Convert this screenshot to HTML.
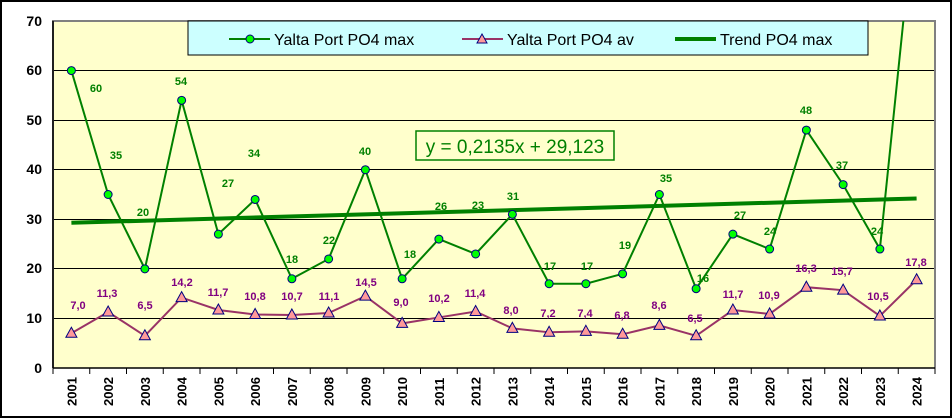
<!DOCTYPE html>
<html><head><meta charset="utf-8"><style>body{margin:0;background:#fff}svg{display:block}text{font-family:"Liberation Sans",Arial,sans-serif}</style></head><body>
<svg width="952" height="418" xmlns="http://www.w3.org/2000/svg">
<rect x="1" y="1" width="950" height="416" fill="#fff" stroke="#000" stroke-width="2"/>
<defs><clipPath id="c"><rect x="53" y="21" width="882" height="347"/></clipPath></defs>
<rect x="53" y="21" width="882" height="347" fill="#ffffcc"/>
<g stroke="#000" stroke-width="1">
<line x1="53" y1="70.5" x2="935" y2="70.5"/><line x1="53" y1="120.5" x2="935" y2="120.5"/><line x1="53" y1="169.5" x2="935" y2="169.5"/><line x1="53" y1="219.5" x2="935" y2="219.5"/><line x1="53" y1="268.5" x2="935" y2="268.5"/><line x1="53" y1="318.5" x2="935" y2="318.5"/>
</g>
<path d="M53 368V21H935V368" fill="none" stroke="#808080" stroke-width="2"/>
<g stroke="#000" stroke-width="1.5"><line x1="53" y1="21" x2="53" y2="368"/><line x1="53" y1="368" x2="935" y2="368"/></g>
<g stroke="#000" stroke-width="1" id="ticks"></g>
<g font-size="14" font-weight="bold" text-anchor="end" fill="#000">
<text x="42" y="26">70</text><text x="42" y="75">60</text><text x="42" y="125">50</text><text x="42" y="174">40</text><text x="42" y="224">30</text><text x="42" y="273">20</text><text x="42" y="323">10</text><text x="42" y="373">0</text>
</g>
<g id="xl" font-size="13" font-weight="bold"></g>
<g clip-path="url(#c)">
<line x1="71.4" y1="222.8" x2="916.6" y2="198.5" stroke="#008000" stroke-width="4"/>
<polyline id="mx" fill="none" stroke="#008000" stroke-width="2"/>
<polyline id="av" fill="none" stroke="#993366" stroke-width="2"/>
<g id="mk"></g>
</g>
<g id="lb" font-size="11" font-weight="bold"></g>
<rect x="416" y="131" width="198" height="29" fill="#ffffcc" stroke="#008000" stroke-width="1.5"/>
<text x="515" y="153" font-size="19" fill="#008000" text-anchor="middle">y = 0,2135x + 29,123</text>
<rect x="188" y="21" width="680" height="34" fill="#ccffff" stroke="#000" stroke-width="1"/>
<line x1="229" y1="39" x2="270" y2="39" stroke="#008000" stroke-width="2"/><circle cx="250" cy="39" r="4" fill="#00ff00" stroke="#000080"/>
<text x="274" y="45" font-size="16">Yalta Port PO4 max</text>
<line x1="462" y1="39" x2="503" y2="39" stroke="#993366" stroke-width="2"/><path d="M482 34L487 43H477Z" fill="#ff9999" stroke="#000080"/>
<text x="507" y="45" font-size="16">Yalta Port PO4 av</text>
<line x1="675" y1="39" x2="716" y2="39" stroke="#008000" stroke-width="4"/>
<text x="720" y="45" font-size="16">Trend PO4 max</text>
</svg>
<script>
var mx=[60,35,20,54,27,34,18,22,40,18,26,23,31,17,17,19,35,16,27,24,48,37,24,96];
var av=[7.0,11.3,6.5,14.2,11.7,10.8,10.7,11.1,14.5,9.0,10.2,11.4,8.0,7.2,7.4,6.8,8.6,6.5,11.7,10.9,16.3,15.7,10.5,17.8];
var ml=[[96,88],[116,155],[143,212],[181,81],[228,183],[254,153],[292,259],[329,240],[365,151],[410,254],[441,206],[478,205],[513,196],[550,266],[587,266],[625,245],[666,178],[703,278],[740,215],[770,231],[806,110],[842,165],[877,231]];
var al=[[78,305],[107,293],[145,305],[182,282],[218,292],[255,296],[292,296],[329,296],[366,282],[401,302],[439,298],[475,293],[511,310],[548,313],[585,313],[622,315],[659,305],[695,318],[733,294],[769,295],[806,268],[842,271],[878,296],[916,262]];
var X=i=>53+36.75*(i+0.5),Y=v=>368-v*4.957;
var ns="http://www.w3.org/2000/svg";function el(p,t,a,tx){var e=document.createElementNS(ns,t);for(var k in a)e.setAttribute(k,a[k]);if(tx)e.textContent=tx;document.getElementById(p).appendChild(e);}
document.getElementById('mx').setAttribute('points',mx.map((v,i)=>X(i)+','+Y(v)).join(' '));
document.getElementById('av').setAttribute('points',av.map((v,i)=>X(i)+','+Y(v)).join(' '));
for(var i=0;i<24;i++){var x=X(i);
 if(i<23)el('mk','circle',{cx:x,cy:Y(mx[i]),r:4,fill:'#00ff00',stroke:'#000080'});
 var y=Y(av[i]);el('mk','path',{d:'M'+x+' '+(y-6)+'L'+(x+5.5)+' '+(y+4)+'H'+(x-5.5)+'Z',fill:'#ff9999',stroke:'#000080'});
 var tx=53+36.75*(i+1);el('ticks','line',{x1:tx,y1:368,x2:tx,y2:374});
 el('xl','text',{transform:'translate('+(x+5)+',406) rotate(-90)'},String(2001+i));
 if(i<23)el('lb','text',{x:ml[i][0],y:ml[i][1]+4,fill:'#008000','text-anchor':'middle'},String(mx[i]));
 el('lb','text',{x:al[i][0],y:al[i][1]+4,fill:'#800080','text-anchor':'middle'},av[i].toFixed(1).replace('.',','));
}
el('ticks','line',{x1:53,y1:368,x2:53,y2:374});
</script>
</body></html>
